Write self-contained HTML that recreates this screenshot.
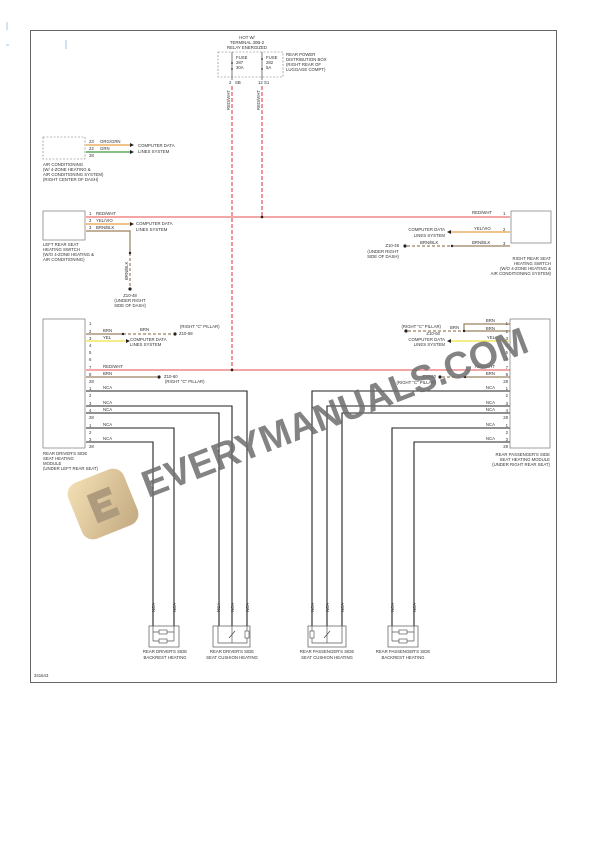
<!DOCTYPE html>
<html><head><meta charset="utf-8"><style>
html,body{margin:0;padding:0;background:#fff;}
svg{display:block;font-family:"Liberation Sans",sans-serif;}
text{font-size:4.3px;fill:#333;}
</style></head><body>
<svg width="612" height="864" viewBox="0 0 612 864">
<rect x="30.5" y="30.5" width="526" height="652" fill="none" stroke="#666" stroke-width="1"/>
<g fill="#cfe3f2"><rect x="6" y="22" width="2" height="8"/><rect x="65" y="40" width="2" height="9"/><rect x="6" y="44" width="3" height="2"/></g>

<text x="247" y="39" text-anchor="middle">HOT W/</text>
<text x="247" y="44" text-anchor="middle">TERMINAL 30B-2</text>
<text x="247" y="49" text-anchor="middle">RELAY ENERGIZED</text>
<rect x="218" y="52" width="65" height="25" fill="none" stroke="#777" stroke-width="0.6" stroke-dasharray="2,1.5"/>
<text x="286" y="56">REAR POWER</text><text x="286" y="61">DISTRIBUTION BOX</text><text x="286" y="66">(RIGHT REAR OF</text><text x="286" y="71">LUGGAGE COMPT)</text>
<text x="236" y="59">FUSE</text><text x="236" y="64">287</text><text x="236" y="69">30A</text>
<text x="266" y="59">FUSE</text><text x="266" y="64">282</text><text x="266" y="69">5A</text>
<line x1="232" y1="52" x2="232" y2="80" stroke="#444" stroke-width="0.7"/>
<line x1="262" y1="52" x2="262" y2="80" stroke="#444" stroke-width="0.7"/>
<circle cx="232" cy="63" r="0.9" fill="#333"/><circle cx="232" cy="69" r="0.9" fill="#333"/>
<circle cx="262" cy="59" r="0.9" fill="#333"/><circle cx="262" cy="69" r="0.9" fill="#333"/>
<text x="229" y="84">2</text><text x="235" y="84">SB</text><text x="258" y="84">12</text><text x="264" y="84">S1</text>
<g stroke="#e03030" stroke-width="1" stroke-dasharray="4,2"><line x1="232" y1="86" x2="232" y2="370"/><line x1="262" y1="86" x2="262" y2="217"/></g>
<text transform="translate(230,110) rotate(-90)">RED/WHT</text>
<text transform="translate(260,110) rotate(-90)">RED/WHT</text>

<rect x="43" y="137" width="42" height="22" fill="none" stroke="#777" stroke-width="0.6" stroke-dasharray="2,1.5"/>
<text x="89" y="143">23</text><text x="89" y="150">22</text><text x="89" y="157">28</text>
<text x="100" y="143">ORG/GRN</text><text x="100" y="150">GRN</text>
<line x1="86" y1="145" x2="130" y2="145" stroke="#e8a040" stroke-width="1.3"/>
<line x1="86" y1="152" x2="130" y2="152" stroke="#3a9a3a" stroke-width="1.3"/>
<path d="M130,143 L134,145 L130,147Z M130,150 L134,152 L130,154Z" fill="#222"/>
<text x="138" y="147">COMPUTER DATA</text><text x="138" y="153">LINES SYSTEM</text>
<text x="43" y="166">AIR CONDITIONING</text><text x="43" y="171">(W/ 4-ZONE HEATING &amp;</text><text x="43" y="176">AIR CONDITIONING SYSTEM)</text><text x="43" y="181">(RIGHT CENTER OF DASH)</text>

<rect x="43" y="211" width="42" height="29" fill="none" stroke="#777" stroke-width="0.7"/>
<text x="89" y="215">1</text><text x="89" y="222">2</text><text x="89" y="229">3</text>
<text x="96" y="215">RED/WHT</text><text x="96" y="222">YEL/VIO</text><text x="96" y="229">BRN/BLK</text>
<line x1="86" y1="217" x2="510" y2="217" stroke="#ee8888" stroke-width="1.4"/>
<circle cx="262" cy="217" r="1.3" fill="#222"/>
<line x1="86" y1="224" x2="130" y2="224" stroke="#e8a040" stroke-width="1.3"/>
<path d="M130,222 L134,224 L130,226Z" fill="#222"/>
<text x="136" y="225">COMPUTER DATA</text><text x="136" y="231">LINES SYSTEM</text>
<path d="M86,231 H130 V253" fill="none" stroke="#9a8060" stroke-width="1.2"/>
<line x1="130" y1="253" x2="130" y2="287" stroke="#9a8060" stroke-width="1.2" stroke-dasharray="3,2"/>
<circle cx="130" cy="253" r="1.2" fill="#222"/><circle cx="130" cy="289" r="1.6" fill="#222"/>
<text transform="translate(128,280) rotate(-90)">BRN/BLK</text>
<text x="130" y="297" text-anchor="middle">Z10-48</text><text x="130" y="302" text-anchor="middle">(UNDER RIGHT</text><text x="130" y="307" text-anchor="middle">SIDE OF DASH)</text>
<text x="43" y="246">LEFT REAR SEAT</text><text x="43" y="251">HEATING SWITCH</text><text x="43" y="256">(W/O 4-ZONE HEATING &amp;</text><text x="43" y="261">AIR CONDITIONING)</text>

<rect x="511" y="211" width="40" height="32" fill="none" stroke="#777" stroke-width="0.7"/>
<text x="503" y="215">1</text><text x="503" y="231">2</text><text x="503" y="245">3</text>
<text x="472" y="214">RED/WHT</text><text x="474" y="230">YEL/VIO</text><text x="472" y="244">BRN/BLK</text>
<line x1="451" y1="232" x2="510" y2="232" stroke="#e8a040" stroke-width="1.3"/>
<path d="M451,230 L447,232 L451,234Z" fill="#222"/>
<text x="445" y="231" text-anchor="end">COMPUTER DATA</text><text x="445" y="237" text-anchor="end">LINES SYSTEM</text>
<line x1="452" y1="246" x2="510" y2="246" stroke="#9a8060" stroke-width="1.2"/>
<line x1="407" y1="246" x2="452" y2="246" stroke="#9a8060" stroke-width="1.2" stroke-dasharray="3,2"/>
<circle cx="452" cy="246" r="1.2" fill="#222"/><circle cx="405" cy="246" r="1.6" fill="#222"/>
<text x="420" y="244">BRN/BLK</text>
<text x="399" y="247" text-anchor="end">Z10-48</text><text x="383" y="253" text-anchor="middle">(UNDER RIGHT</text><text x="383" y="258" text-anchor="middle">SIDE OF DASH)</text>
<text x="551" y="260" text-anchor="end">RIGHT REAR SEAT</text><text x="551" y="265" text-anchor="end">HEATING SWITCH</text><text x="551" y="270" text-anchor="end">(W/O 4-ZONE HEATING &amp;</text><text x="551" y="275" text-anchor="end">AIR CONDITIONING SYSTEM)</text>

<rect x="43" y="319" width="42" height="129" fill="none" stroke="#777" stroke-width="0.7"/>
<g>
<text x="89" y="325">1</text><text x="89" y="333">2</text><text x="89" y="340">3</text><text x="89" y="347">4</text><text x="89" y="354">5</text><text x="89" y="361">6</text><text x="89" y="369">7</text><text x="89" y="376">8</text><text x="89" y="383">28</text>
<text x="89" y="390">1</text><text x="89" y="397">2</text><text x="89" y="405">3</text><text x="89" y="412">4</text><text x="89" y="419">28</text>
<text x="89" y="427">1</text><text x="89" y="434">2</text><text x="89" y="441">3</text><text x="89" y="448">28</text>
</g>
<text x="103" y="332">BRN</text><text x="103" y="339">YEL</text><text x="103" y="368">RED/WHT</text><text x="103" y="375">BRN</text>
<text x="103" y="389">NCA</text><text x="103" y="404">NCA</text><text x="103" y="411">NCA</text><text x="103" y="426">NCA</text><text x="103" y="440">NCA</text>
<line x1="86" y1="334" x2="123" y2="334" stroke="#9a8060" stroke-width="1.2"/>
<line x1="123" y1="334" x2="173" y2="334" stroke="#9a8060" stroke-width="1.2" stroke-dasharray="3,2"/>
<circle cx="123" cy="334" r="1.2" fill="#222"/><circle cx="175" cy="334" r="1.6" fill="#222"/>
<text x="140" y="331">BRN</text><text x="180" y="328">(RIGHT "C" PILLAR)</text><text x="179" y="335">Z10-58</text>
<line x1="86" y1="341" x2="126" y2="341" stroke="#f0e040" stroke-width="1.3"/>
<path d="M126,339 L130,341 L126,343Z" fill="#222"/>
<text x="130" y="341">COMPUTER DATA</text><text x="130" y="346">LINES SYSTEM</text>
<line x1="86" y1="370" x2="510" y2="370" stroke="#ee8888" stroke-width="1.4"/>
<circle cx="232" cy="370" r="1.3" fill="#222"/>
<line x1="86" y1="377" x2="157" y2="377" stroke="#9a8060" stroke-width="1.2"/>
<circle cx="159" cy="377" r="1.6" fill="#222"/>
<text x="164" y="378">Z10-60</text><text x="165" y="383">(RIGHT "C" PILLAR)</text>
<text x="43" y="455">REAR DRIVER'S SIDE</text><text x="43" y="460">SEAT HEATING</text><text x="43" y="465">MODULE</text><text x="43" y="470">(UNDER LEFT REAR SEAT)</text>

<g fill="none" stroke="#222" stroke-width="1.1">
<path d="M86,391 H247 V626"/><path d="M86,406 H232 V626"/><path d="M86,413 H219 V626"/>
<path d="M86,428 H174 V626"/><path d="M86,442 H153 V626"/>
<path d="M510,391 H312 V626"/><path d="M510,406 H327 V626"/><path d="M510,413 H342 V626"/>
<path d="M510,428 H392 V626"/><path d="M510,442 H414 V626"/>
</g>

<rect x="510" y="319" width="40" height="129" fill="none" stroke="#777" stroke-width="0.7"/>
<g text-anchor="end">
<text x="508" y="325">1</text><text x="508" y="333">2</text><text x="508" y="340">3</text><text x="508" y="347">4</text><text x="508" y="354">5</text><text x="508" y="361">6</text><text x="508" y="369">7</text><text x="508" y="376">8</text><text x="508" y="383">28</text>
<text x="508" y="390">1</text><text x="508" y="397">2</text><text x="508" y="405">3</text><text x="508" y="412">4</text><text x="508" y="419">28</text>
<text x="508" y="427">1</text><text x="508" y="434">2</text><text x="508" y="441">3</text><text x="508" y="448">28</text>
<text x="495" y="322">BRN</text><text x="495" y="330">BRN</text><text x="495" y="339">YEL</text><text x="495" y="368">RED/WHT</text><text x="495" y="375">BRN</text>
<text x="495" y="389">NCA</text><text x="495" y="404">NCA</text><text x="495" y="411">NCA</text><text x="495" y="426">NCA</text><text x="495" y="440">NCA</text>
<text x="441" y="328">(RIGHT "C" PILLAR)</text><text x="440" y="335">Z10-60</text>
<text x="445" y="341">COMPUTER DATA</text><text x="445" y="346">LINES SYSTEM</text>
<text x="436" y="378">Z10-60</text><text x="436" y="384">(RIGHT "C" PILLAR)</text>
<text x="550" y="456">REAR PASSENGER'S SIDE</text><text x="550" y="461">SEAT HEATING MODULE</text><text x="550" y="466">(UNDER RIGHT REAR SEAT)</text>
</g>
<path d="M510,324 H464 V331" fill="none" stroke="#9a8060" stroke-width="1.2"/>
<line x1="464" y1="331" x2="510" y2="331" stroke="#9a8060" stroke-width="1.2"/>
<line x1="408" y1="331" x2="464" y2="331" stroke="#9a8060" stroke-width="1.2" stroke-dasharray="3,2"/>
<circle cx="464" cy="331" r="1.2" fill="#222"/><circle cx="406" cy="331" r="1.6" fill="#222"/>
<text x="450" y="329">BRN</text>
<line x1="451" y1="341" x2="510" y2="341" stroke="#f0e040" stroke-width="1.3"/>
<path d="M451,339 L447,341 L451,343Z" fill="#222"/>
<line x1="465" y1="377" x2="510" y2="377" stroke="#9a8060" stroke-width="1.2"/>
<line x1="442" y1="377" x2="465" y2="377" stroke="#9a8060" stroke-width="1.2" stroke-dasharray="3,2"/>
<circle cx="465" cy="377" r="1.2" fill="#222"/><circle cx="440" cy="377" r="1.6" fill="#222"/>

<g>
<text transform="translate(155,612) rotate(-90)">NCA</text><text transform="translate(176,612) rotate(-90)">NCA</text>
<text transform="translate(220,612) rotate(-90)">NCA</text><text transform="translate(234,612) rotate(-90)">NCA</text><text transform="translate(249,612) rotate(-90)">NCA</text>
<text transform="translate(314,612) rotate(-90)">NCA</text><text transform="translate(329,612) rotate(-90)">NCA</text><text transform="translate(344,612) rotate(-90)">NCA</text>
<text transform="translate(394,612) rotate(-90)">NCA</text><text transform="translate(416,612) rotate(-90)">NCA</text>
</g>
<g fill="none" stroke="#555" stroke-width="0.7">
<rect x="149" y="626" width="30" height="21"/><rect x="213" y="626" width="37" height="21"/>
<rect x="308" y="626" width="38" height="21"/><rect x="388" y="626" width="30" height="21"/>
<path d="M153,632 H174 M153,641 H174 M153,626 V641 M174,626 V641"/>
<path d="M392,632 H414 M392,641 H414 M392,626 V641 M414,626 V641"/>
<path d="M218,626 V643 H247 V626 M232,626 V643"/>
<path d="M312,626 V643 H342 V626 M327,626 V643"/>
</g>
<g fill="#fff" stroke="#444" stroke-width="0.6">
<rect x="159" y="630" width="8" height="4"/><rect x="159" y="639" width="8" height="4"/>
<rect x="399" y="630" width="8" height="4"/><rect x="399" y="639" width="8" height="4"/>
<rect x="245" y="631" width="4" height="7"/><rect x="310" y="631" width="4" height="7"/>
</g>
<path d="M229,638 L235,631 M324,638 L330,631" stroke="#444" stroke-width="0.7"/>
<text x="165" y="653" text-anchor="middle">REAR DRIVER'S SIDE</text><text x="165" y="659" text-anchor="middle">BACKREST HEATING</text>
<text x="232" y="653" text-anchor="middle">REAR DRIVER'S SIDE</text><text x="232" y="659" text-anchor="middle">SEAT CUSHION HEATING</text>
<text x="327" y="653" text-anchor="middle">REAR PASSENGER'S SIDE</text><text x="327" y="659" text-anchor="middle">SEAT CUSHION HEATING</text>
<text x="403" y="653" text-anchor="middle">REAR PASSENGER'S SIDE</text><text x="403" y="659" text-anchor="middle">BACKREST HEATING</text>
<text x="34" y="677">341643</text>

<defs><linearGradient id="g" x1="0" y1="0" x2="1" y2="1"><stop offset="0" stop-color="#f3dba8"/><stop offset="1" stop-color="#b89a6a"/></linearGradient></defs>
<g transform="translate(103,504) rotate(-22)" opacity="0.85">
<rect x="-30" y="-30" width="60" height="60" rx="12" fill="url(#g)"/>
<path d="M-12,-14 H12 V-6 H-4 V-2 H8 V4 H-4 V8 H12 V16 H-12Z" fill="#a08a68"/>
</g>
<text transform="translate(148,498) rotate(-21)" textLength="410" lengthAdjust="spacingAndGlyphs" style="font-size:38px;font-weight:bold;fill:#6e6e6e;opacity:0.85">EVERYMANUALS.COM</text>
</svg>
</body></html>
